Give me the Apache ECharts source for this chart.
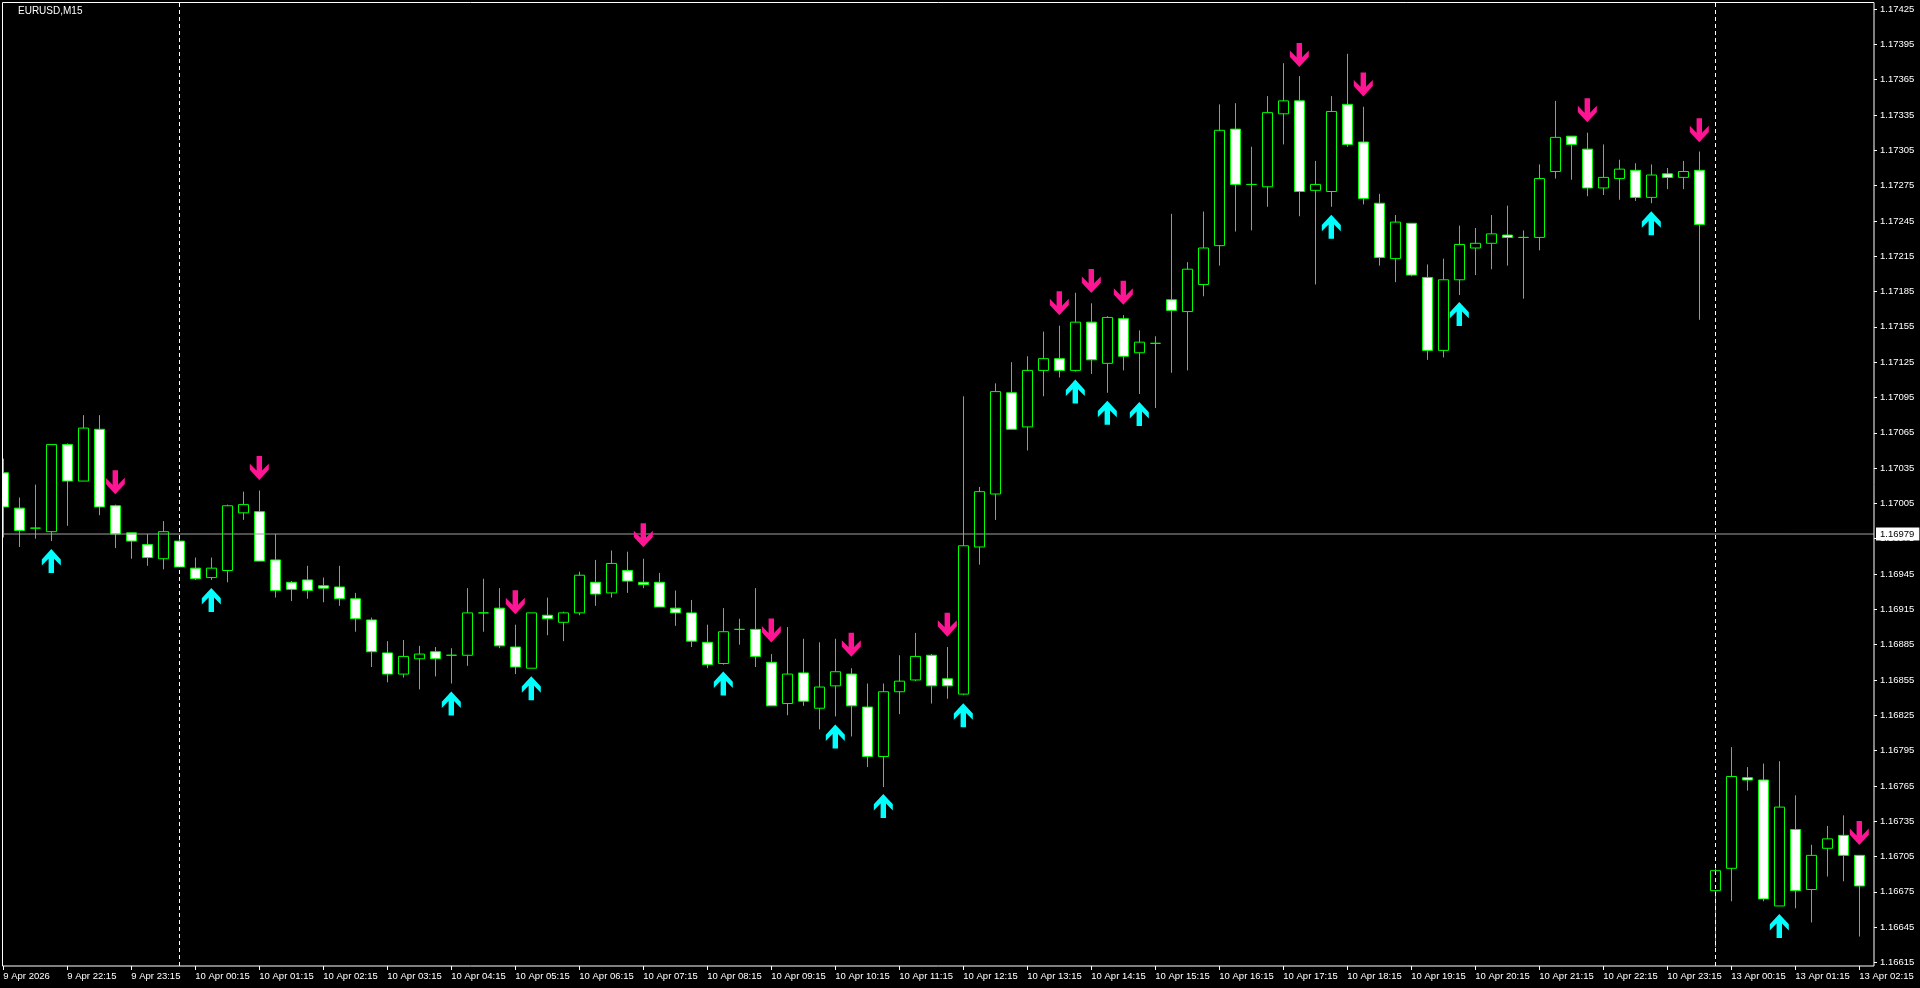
<!DOCTYPE html>
<html>
<head>
<meta charset="utf-8">
<script src="https://cdn.jsdelivr.net/npm/echarts@6/dist/echarts.min.js"></script>
<style>
html,body{margin:0;padding:0;background:#000;}
#chart{width:1920px;height:988px;}
</style>
</head>
<body>
<div id="chart"></div>
<script>
const chartTitle = 'EURUSD,M15';
const firstLabel = '9 Apr 2026';
const categories = [
'9 Apr 21:15','9 Apr 21:30','9 Apr 21:45','9 Apr 22:00','9 Apr 22:15','9 Apr 22:30','9 Apr 22:45','9 Apr 23:00','9 Apr 23:15','9 Apr 23:30','9 Apr 23:45',
'10 Apr 00:00','10 Apr 00:15','10 Apr 00:30','10 Apr 00:45','10 Apr 01:00','10 Apr 01:15','10 Apr 01:30','10 Apr 01:45',
'10 Apr 02:00','10 Apr 02:15','10 Apr 02:30','10 Apr 02:45','10 Apr 03:00','10 Apr 03:15','10 Apr 03:30','10 Apr 03:45',
'10 Apr 04:00','10 Apr 04:15','10 Apr 04:30','10 Apr 04:45','10 Apr 05:00','10 Apr 05:15','10 Apr 05:30','10 Apr 05:45',
'10 Apr 06:00','10 Apr 06:15','10 Apr 06:30','10 Apr 06:45','10 Apr 07:00','10 Apr 07:15','10 Apr 07:30','10 Apr 07:45',
'10 Apr 08:00','10 Apr 08:15','10 Apr 08:30','10 Apr 08:45','10 Apr 09:00','10 Apr 09:15','10 Apr 09:30','10 Apr 09:45',
'10 Apr 10:00','10 Apr 10:15','10 Apr 10:30','10 Apr 10:45','10 Apr 11:00','10 Apr 11:15','10 Apr 11:30','10 Apr 11:45',
'10 Apr 12:00','10 Apr 12:15','10 Apr 12:30','10 Apr 12:45','10 Apr 13:00','10 Apr 13:15','10 Apr 13:30','10 Apr 13:45',
'10 Apr 14:00','10 Apr 14:15','10 Apr 14:30','10 Apr 14:45','10 Apr 15:00','10 Apr 15:15','10 Apr 15:30','10 Apr 15:45',
'10 Apr 16:00','10 Apr 16:15','10 Apr 16:30','10 Apr 16:45','10 Apr 17:00','10 Apr 17:15','10 Apr 17:30','10 Apr 17:45',
'10 Apr 18:00','10 Apr 18:15','10 Apr 18:30','10 Apr 18:45','10 Apr 19:00','10 Apr 19:15','10 Apr 19:30','10 Apr 19:45',
'10 Apr 20:00','10 Apr 20:15','10 Apr 20:30','10 Apr 20:45','10 Apr 21:00','10 Apr 21:15','10 Apr 21:30','10 Apr 21:45',
'10 Apr 22:00','10 Apr 22:15','10 Apr 22:30','10 Apr 22:45','10 Apr 23:00','10 Apr 23:15','10 Apr 23:30','10 Apr 23:45',
'13 Apr 00:00','13 Apr 00:15','13 Apr 00:30','13 Apr 00:45','13 Apr 01:00','13 Apr 01:15','13 Apr 01:30','13 Apr 01:45',
'13 Apr 02:00','13 Apr 02:15'
];
const opens = [
1.17031,1.17001,1.16984,1.16981,1.17055,1.17024,1.17068,1.17003,1.16980,1.16970,
1.16958,1.16973,1.16950,1.16942,1.16948,1.16997,1.16998,1.16957,1.16938,1.16940,
1.16935,1.16934,1.16924,1.16906,1.16878,1.16860,1.16873,1.16879,1.16876,1.16876,
1.16912,1.16916,1.16883,1.16865,1.16910,1.16904,1.16912,1.16938,1.16929,1.16948,
1.16938,1.16938,1.16916,1.16912,1.16887,1.16869,1.16898,1.16898,1.16870,1.16835,
1.16861,1.16831,1.16850,1.16860,1.16832,1.16790,1.16845,1.16855,1.16876,1.16856,
1.16843,1.16968,1.17013,1.17099,1.17070,1.17118,1.17128,1.17118,1.17159,1.17124,
1.17162,1.17133,1.17141,1.17178,1.17168,1.17191,1.17224,1.17323,1.17276,1.17274,
1.17336,1.17347,1.17271,1.17270,1.17344,1.17312,1.17260,1.17213,1.17243,1.17197,
1.17135,1.17195,1.17222,1.17226,1.17233,1.17231,1.17231,1.17287,1.17317,1.17306,
1.17273,1.17281,1.17288,1.17265,1.17285,1.17282,1.17288,1.16676,1.16695,1.16772,
1.16770,1.16663,1.16728,1.16677,1.16712,1.16723,1.16706
];
const highs = [
1.17043,1.17010,1.17021,1.17055,1.17056,1.17080,1.17080,1.17004,1.16980,1.16979,
1.16990,1.16975,1.16959,1.16959,1.17004,1.17015,1.17016,1.16979,1.16939,1.16952,
1.16942,1.16952,1.16929,1.16908,1.16888,1.16889,1.16884,1.16883,1.16882,1.16933,
1.16941,1.16933,1.16902,1.16912,1.16925,1.16913,1.16947,1.16957,1.16965,1.16964,
1.16958,1.16946,1.16931,1.16923,1.16902,1.16916,1.16907,1.16933,1.16877,1.16900,
1.16890,1.16887,1.16890,1.16865,1.16852,1.16852,1.16876,1.16895,1.16877,1.16883,
1.17096,1.17019,1.17107,1.17125,1.17130,1.17151,1.17156,1.17184,1.17175,1.17164,
1.17165,1.17152,1.17147,1.17251,1.17210,1.17253,1.17344,1.17345,1.17308,1.17351,
1.17379,1.17368,1.17296,1.17351,1.17387,1.17342,1.17268,1.17250,1.17243,1.17208,
1.17213,1.17241,1.17239,1.17250,1.17258,1.17237,1.17293,1.17347,1.17317,1.17320,
1.17310,1.17297,1.17294,1.17293,1.17290,1.17296,1.17304,1.16695,1.16798,1.16781,
1.16784,1.16786,1.16757,1.16715,1.16731,1.16740,1.16706
];
const lows = [
1.16976,1.16968,1.16975,1.16973,1.16986,1.17024,1.16995,1.16967,1.16958,1.16952,
1.16949,1.16951,1.16940,1.16940,1.16938,1.16991,1.16956,1.16925,1.16922,1.16924,
1.16921,1.16918,1.16896,1.16866,1.16853,1.16857,1.16847,1.16858,1.16852,1.16867,
1.16896,1.16882,1.16860,1.16865,1.16893,1.16888,1.16910,1.16918,1.16925,1.16929,
1.16933,1.16917,1.16901,1.16883,1.16865,1.16868,1.16885,1.16866,1.16833,1.16825,
1.16833,1.16813,1.16824,1.16807,1.16781,1.16764,1.16826,1.16854,1.16835,1.16839,
1.16842,1.16953,1.16991,1.17068,1.17050,1.17096,1.17112,1.17117,1.17115,1.17099,
1.17118,1.17098,1.17086,1.17116,1.17118,1.17181,1.17207,1.17236,1.17237,1.17257,
1.17310,1.17249,1.17191,1.17257,1.17308,1.17259,1.17207,1.17193,1.17198,1.17127,
1.17129,1.17182,1.17199,1.17204,1.17207,1.17179,1.17220,1.17281,1.17280,1.17266,
1.17267,1.17263,1.17262,1.17260,1.17272,1.17272,1.17161,1.16628,1.16667,1.16761,
1.16667,1.16663,1.16661,1.16649,1.16688,1.16684,1.16637
];
const closes = [
1.17002,1.16982,1.16984,1.17055,1.17024,1.17069,1.17002,1.16979,1.16973,1.16959,
1.16981,1.16951,1.16941,1.16950,1.17003,1.17004,1.16956,1.16931,1.16932,1.16931,
1.16933,1.16924,1.16907,1.16879,1.16860,1.16875,1.16877,1.16873,1.16876,1.16912,
1.16912,1.16884,1.16866,1.16912,1.16907,1.16912,1.16944,1.16928,1.16954,1.16939,
1.16936,1.16917,1.16912,1.16888,1.16868,1.16896,1.16898,1.16875,1.16833,1.16860,
1.16837,1.16849,1.16862,1.16833,1.16790,1.16845,1.16854,1.16875,1.16850,1.16850,
1.16969,1.17015,1.17100,1.17068,1.17118,1.17128,1.17118,1.17159,1.17127,1.17163,
1.17130,1.17142,1.17141,1.17169,1.17204,1.17222,1.17322,1.17276,1.17276,1.17337,
1.17347,1.17270,1.17276,1.17338,1.17310,1.17264,1.17214,1.17244,1.17199,1.17135,
1.17195,1.17225,1.17226,1.17234,1.17231,1.17231,1.17281,1.17316,1.17310,1.17273,
1.17282,1.17289,1.17265,1.17284,1.17282,1.17287,1.17242,1.16693,1.16773,1.16770,
1.16669,1.16747,1.16676,1.16706,1.16720,1.16706,1.16680
];
const yTicks = [
1.16615,1.16645,1.16675,1.16705,1.16735,1.16765,1.16795,1.16825,1.16855,1.16885,
1.16915,1.16945,1.16975,1.17005,1.17035,1.17065,1.17095,1.17125,1.17155,1.17185,
1.17215,1.17245,1.17275,1.17305,1.17335,1.17365,1.17395,1.17425
];
const yMin = 1.16612;
const yMax = 1.17431;
const downArrowIdx = [7,16,32,40,48,53,59,66,68,70,81,85,99,106,116];
const downArrowVal = [1.17023,1.17035,1.16921,1.16978,1.16897,1.16885,1.16902,1.17175,1.17194,1.17184,1.17386,1.17361,1.17339,1.17322,1.16725];
const upArrowIdx = [3,13,28,33,45,52,55,60,67,69,71,83,91,103,111];
const upArrowVal = [1.16956,1.16923,1.16835,1.16848,1.16852,1.16807,1.16748,1.16825,1.17100,1.17082,1.17081,1.17240,1.17166,1.17243,1.16646];
const bidPrice = 1.16979;
const separatorIdx = [11, 107];

const FONT = "'Liberation Sans', sans-serif";
const FSIZE = 9.5;
const DOWN_PATH = 'path://M20,0L36,0L36,42L56,22L56,40L28,70L0,40L0,22L20,42Z';
const UP_PATH = 'path://M20,70L36,70L36,28L56,48L56,30L28,0L0,30L0,48L20,28Z';

const candleData = categories.map((_, i) => [opens[i], closes[i], lows[i], highs[i]]);
const downData = downArrowIdx.map((idx, k) => [idx, downArrowVal[k]]);
const upData = upArrowIdx.map((idx, k) => [idx, upArrowVal[k]]);

const chart = echarts.init(document.getElementById('chart'), null, {renderer: 'canvas'});
const option = {
  backgroundColor: '#000',
  animation: false,
  title: {
    text: chartTitle, left: 18, top: 6, padding: 0,
    textStyle: {color: '#fff', fontSize: 10, fontWeight: 'normal', fontFamily: FONT}
  },
  grid: [
    {left: -4.7, top: 2, width: 1872, height: 964, containLabel: false, outerBoundsMode: 'none'},
    {left: 2, top: 2, width: 1872, height: 964, containLabel: false, outerBoundsMode: 'none'}
  ],
  xAxis: [
    {
      type: 'category', gridIndex: 0, data: categories, boundaryGap: true,
      axisLine: {show: false, onZero: false},
      axisTick: {show: true, interval: 3, alignWithLabel: true, length: 4, lineStyle: {color: '#fff'}},
      axisLabel: {
        interval: 3, align: 'left', margin: 5, color: '#fff', fontSize: FSIZE, fontFamily: FONT,
        formatter: (v, i) => (i === 0 ? firstLabel : v)
      },
      splitLine: {show: false}
    },
    {type: 'value', gridIndex: 1, min: 0, max: 1, show: false, axisLine: {onZero: false}}
  ],
  yAxis: [
    {type: 'value', gridIndex: 0, min: yMin, max: yMax, show: false, axisLine: {onZero: false}, splitLine: {show: false}},
    {
      type: 'value', gridIndex: 1, position: 'right', min: yMin, max: yMax,
      axisLine: {show: false, onZero: false},
      axisTick: {show: true, length: 3, customValues: yTicks, lineStyle: {color: '#fff'}},
      axisLabel: {
        customValues: yTicks, color: '#fff', margin: 6, fontSize: FSIZE, fontFamily: FONT,
        formatter: v => Number(v).toFixed(5)
      },
      splitLine: {show: false}
    }
  ],
  series: [
    {
      type: 'candlestick', xAxisIndex: 0, yAxisIndex: 0, data: candleData,
      barWidth: 10, z: 2,
      itemStyle: {
        color: '#000000', color0: '#ffffff',
        borderColor: '#00ff00', borderColor0: '#00ff00', borderColorDoji: '#00ff00',
        borderWidth: 1
      },
      markLine: {
        silent: true, symbol: ['none', 'none'], label: {show: false},
        lineStyle: {color: '#ffffff', type: [4, 3], width: 1},
        data: separatorIdx.map(i => ({xAxis: categories[i]}))
      }
    },
    {
      type: 'line', xAxisIndex: 1, yAxisIndex: 1, z: 3,
      data: [[0, bidPrice], [1, bidPrice]],
      symbol: 'none', silent: true,
      lineStyle: {color: '#a0a0a0', width: 1},
      endLabel: {
        show: true, formatter: () => bidPrice.toFixed(5), color: '#000', backgroundColor: '#fff',
        padding: [2, 5, 1, 4], fontSize: FSIZE, fontFamily: FONT, distance: 2
      }
    },
    {
      type: 'scatter', xAxisIndex: 0, yAxisIndex: 0, z: 4, silent: true,
      data: downData, symbol: DOWN_PATH, symbolSize: [19, 24],
      itemStyle: {color: '#ff1493', opacity: 1}
    },
    {
      type: 'scatter', xAxisIndex: 0, yAxisIndex: 0, z: 4, silent: true,
      data: upData, symbol: UP_PATH, symbolSize: [19, 24],
      itemStyle: {color: '#00ffff', opacity: 1}
    }
  ],
  graphic: [
    {type: 'rect', silent: true, z: 50, shape: {x: 0, y: 0, width: 2, height: 968}, style: {fill: '#000'}},
    {type: 'rect', silent: true, z: 51, shape: {x: 2.5, y: 2.5, width: 1871.5, height: 963.5}, style: {fill: null, stroke: '#fff', lineWidth: 1}}
  ]
};
chart.setOption(option);
</script>
</body>
</html>
